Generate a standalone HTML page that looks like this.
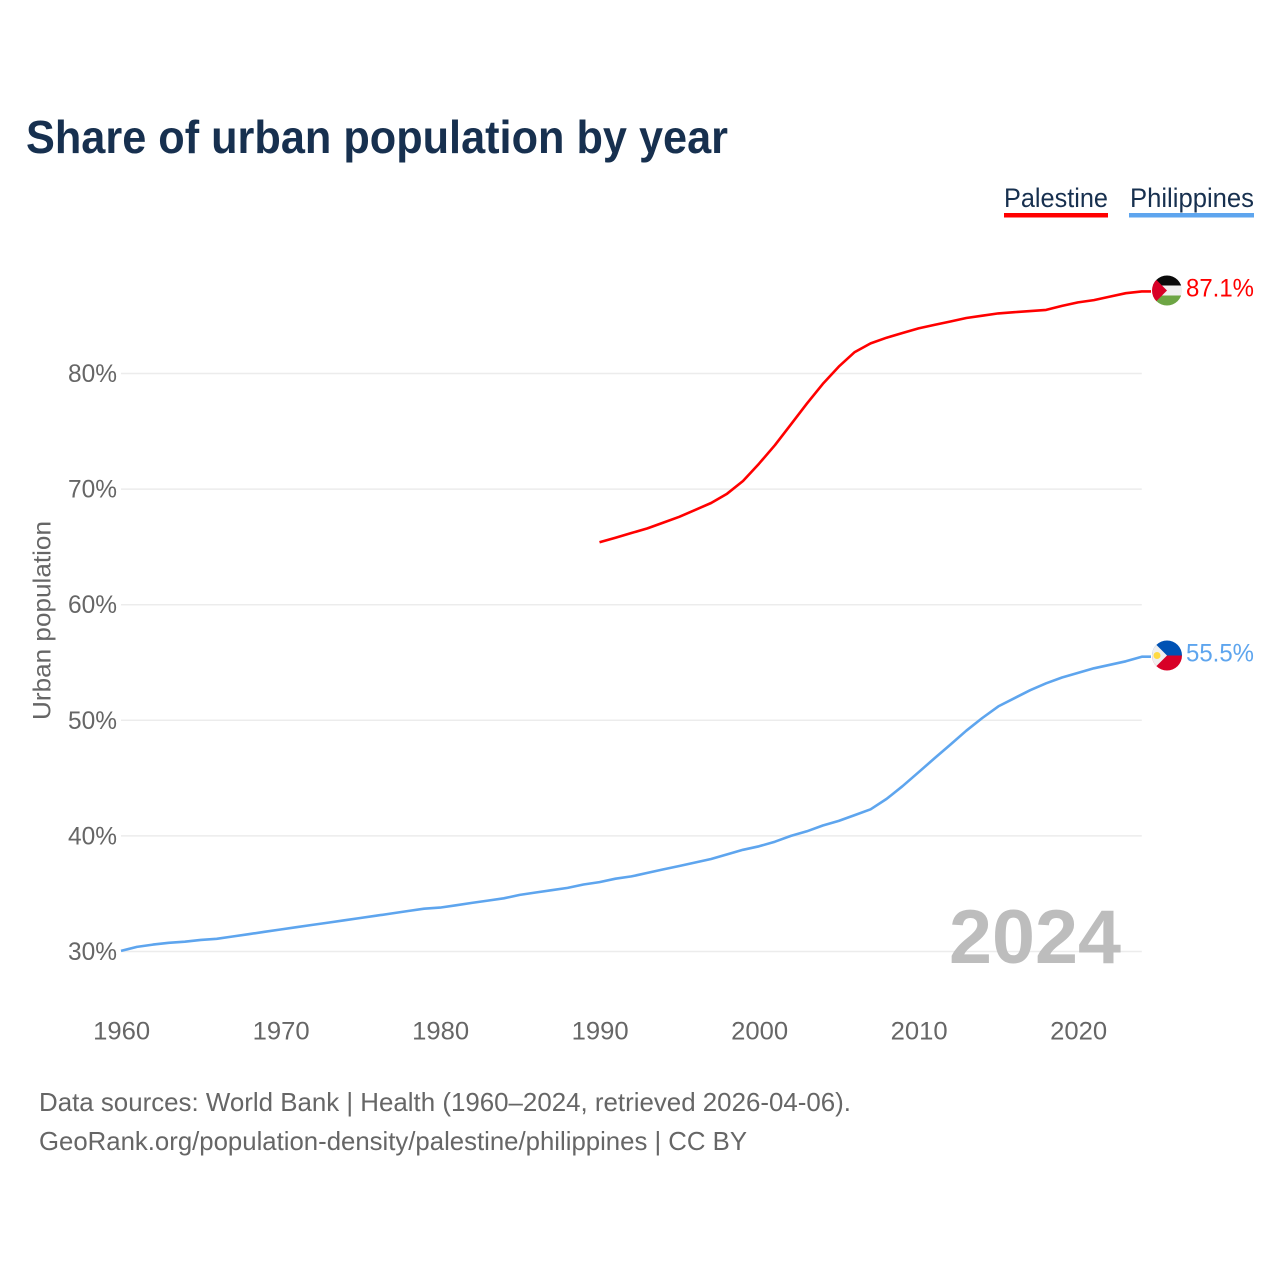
<!DOCTYPE html>
<html lang="en">
<head>
<meta charset="utf-8">
<title>Share of urban population by year</title>
<style>
html,body{margin:0;padding:0;background:#fff}
svg{display:block}
text{font-family:"Liberation Sans",sans-serif}
</style>
</head>
<body>
<svg id="chart" xmlns="http://www.w3.org/2000/svg" width="1280" height="1280" viewBox="0 0 1280 1280">
<rect width="1280" height="1280" fill="#fff"/>
<text x="26" y="153" font-size="46" font-weight="700" fill="#17304f" textLength="702" lengthAdjust="spacingAndGlyphs">Share of urban population by year</text>
<g>
<text x="1004" y="207" font-size="27" fill="#17304f" textLength="104" lengthAdjust="spacingAndGlyphs">Palestine</text>
<rect x="1004" y="213" width="104" height="4.5" fill="#ff0000"/>
</g>
<g>
<text x="1130" y="207" font-size="27" fill="#17304f" textLength="124" lengthAdjust="spacingAndGlyphs">Philippines</text>
<rect x="1129" y="213" width="125" height="4.5" fill="#5ea5ee"/>
</g>
<text transform="translate(50.5,720) rotate(-90)" font-size="25" fill="#666" textLength="199" lengthAdjust="spacingAndGlyphs">Urban population</text>
<g id="grid"></g>
<g id="yticks"></g>
<g id="xticks"></g>
<text x="949" y="963" font-size="76" font-weight="700" fill="#bdbdbd" textLength="172" lengthAdjust="spacingAndGlyphs">2024</text>
<g id="series"></g>
<defs>
<clipPath id="clip-pal"><circle cx="1167" cy="290.5" r="15"/></clipPath>
<clipPath id="clip-phi"><circle cx="1167" cy="655.5" r="15"/></clipPath>
</defs>
<g clip-path="url(#clip-pal)">
<rect x="1152" y="275.5" width="30" height="10" fill="#0a0a0a"/>
<rect x="1152" y="285.5" width="30" height="10" fill="#f0f0f0"/>
<rect x="1152" y="295.5" width="30" height="10" fill="#6da544"/>
<polygon points="1152,275.5 1167,290.5 1152,305.5" fill="#d80027"/>
</g>
<g clip-path="url(#clip-phi)">
<rect x="1152" y="640.5" width="30" height="15" fill="#0052b4"/>
<rect x="1152" y="655.5" width="30" height="15" fill="#d80027"/>
<polygon points="1152,640.5 1167,655.5 1152,670.5" fill="#f0f0f0"/>
<circle cx="1157" cy="655.5" r="3.5" fill="#ffda44"/>
</g>
<g id="endlabels"></g>
<text x="39" y="1111" font-size="26" fill="#666" textLength="812" lengthAdjust="spacingAndGlyphs">Data sources: World Bank | Health (1960–2024, retrieved 2026-04-06).</text>
<text x="39" y="1150" font-size="26" fill="#666" textLength="708" lengthAdjust="spacingAndGlyphs">GeoRank.org/population-density/palestine/philippines | CC BY</text>
</svg>
<script>
const palestineYears = [1990,1991,1992,1993,1994,1995,1996,1997,1998,1999,2000,2001,2002,2003,2004,2005,2006,2007,2008,2009,2010,2011,2012,2013,2014,2015,2016,2017,2018,2019,2020,2021,2022,2023,2024];
const palestineValues = [65.4,65.8,66.2,66.6,67.1,67.6,68.2,68.8,69.6,70.7,72.2,73.8,75.6,77.4,79.1,80.6,81.85,82.6,83.1,83.5,83.9,84.2,84.5,84.8,85.0,85.2,85.3,85.4,85.5,85.85,86.15,86.35,86.65,86.95,87.1];
const philippinesYears = [1960,1961,1962,1963,1964,1965,1966,1967,1968,1969,1970,1971,1972,1973,1974,1975,1976,1977,1978,1979,1980,1981,1982,1983,1984,1985,1986,1987,1988,1989,1990,1991,1992,1993,1994,1995,1996,1997,1998,1999,2000,2001,2002,2003,2004,2005,2006,2007,2008,2009,2010,2011,2012,2013,2014,2015,2016,2017,2018,2019,2020,2021,2022,2023,2024];
const philippinesValues = [30.05,30.4,30.6,30.75,30.85,31.0,31.1,31.3,31.5,31.7,31.9,32.1,32.3,32.5,32.7,32.9,33.1,33.3,33.5,33.7,33.8,34.0,34.2,34.4,34.6,34.9,35.1,35.3,35.5,35.8,36.0,36.3,36.5,36.8,37.1,37.4,37.7,38.0,38.4,38.8,39.1,39.5,40.0,40.4,40.9,41.3,41.8,42.3,43.2,44.3,45.5,46.7,47.9,49.1,50.2,51.2,51.9,52.6,53.2,53.7,54.1,54.5,54.8,55.1,55.5];
const yTickValues = [30,40,50,60,70,80];
const xTickYears = [1960,1970,1980,1990,2000,2010,2020];

const NS = 'http://www.w3.org/2000/svg';
const xScale = year => 121 + (year - 1960) * 15.95;
const yScale = value => 951.5 - (value - 30) * 11.56;

function makeText(parent, str, x, y, size, fill, anchor, width) {
  const t = document.createElementNS(NS, 'text');
  t.textContent = str;
  t.setAttribute('x', x);
  t.setAttribute('y', y);
  t.setAttribute('font-size', size);
  t.setAttribute('fill', fill);
  t.setAttribute('text-anchor', anchor);
  t.setAttribute('textLength', width);
  t.setAttribute('lengthAdjust', 'spacingAndGlyphs');
  parent.appendChild(t);
  return t;
}

const gridGroup = document.getElementById('grid');
const yTickGroup = document.getElementById('yticks');
yTickValues.forEach(v => {
  const line = document.createElementNS(NS, 'line');
  line.setAttribute('x1', 121);
  line.setAttribute('x2', xScale(2024));
  line.setAttribute('y1', yScale(v));
  line.setAttribute('y2', yScale(v));
  line.setAttribute('stroke', '#ececec');
  line.setAttribute('stroke-width', 1.5);
  
  
  gridGroup.appendChild(line);
  const label = makeText(yTickGroup, v + '%', 117, yScale(v) + 8.5, 25, '#666', 'end', 49);
  
  
});

const xTickGroup = document.getElementById('xticks');
xTickYears.forEach(year => {
  const label = makeText(xTickGroup, String(year), xScale(year) + 0.7, 1039.5, 25, '#666', 'middle', 57);
  
  
});

const seriesGroup = document.getElementById('series');
const labelGroup = document.getElementById('endlabels');

function drawSeries(years, values, color, name) {
  const pts = years.map((year, i) => xScale(year).toFixed(1) + ',' + yScale(values[i]).toFixed(1));
  const lastValue = values[values.length - 1];
  pts.push('1151,' + yScale(lastValue).toFixed(1));
  const line = document.createElementNS(NS, 'polyline');
  line.setAttribute('points', pts.join(' '));
  line.setAttribute('fill', 'none');
  line.setAttribute('stroke', color);
  line.setAttribute('stroke-width', 2.6);
  line.setAttribute('stroke-linejoin', 'round');
  
  
  seriesGroup.appendChild(line);
  const label = makeText(labelGroup, lastValue.toFixed(1) + '%', 1186, yScale(lastValue) + 5, 25, color, 'start', 68);
  
  
}

drawSeries(palestineYears, palestineValues, '#ff0000', 'palestine');
drawSeries(philippinesYears, philippinesValues, '#5ea5ee', 'philippines');
</script>
</body>
</html>
